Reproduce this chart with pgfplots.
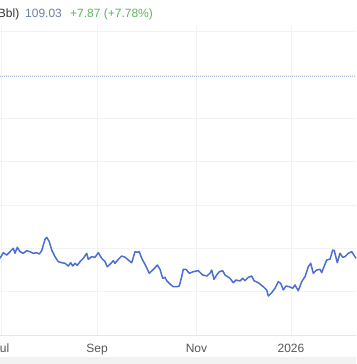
\documentclass[border=0pt]{standalone}
\usepackage{pgfplots}
\pgfplotsset{compat=1.18}
\usepackage{fontspec}
\setmainfont{Liberation Sans}
\definecolor{linec}{HTML}{4A6FD0}
\definecolor{gridc}{HTML}{F2F2F2}
\definecolor{dotc}{HTML}{A9BEDC}
\definecolor{pricec}{HTML}{6E7FA6}
\definecolor{chgc}{HTML}{5DB55D}
\definecolor{txtc}{HTML}{333333}
\definecolor{lblc}{HTML}{555555}
\definecolor{bandc}{HTML}{F2F2F2}
\definecolor{basec}{HTML}{E6E6E6}
\begin{document}
\begin{tikzpicture}[x=1pt,y=1pt]
\path[use as bounding box] (0,0) rectangle (356,364);
\fill[bandc] (0,0) rectangle (356,7);
\begin{axis}[
  at={(0pt,29pt)}, anchor=south west,
  scale only axis, width=356pt, height=335pt,
  xmin=0, xmax=356, ymin=29, ymax=364,
  axis line style={draw=none},
  xtick={1.5,97,196.5,291}, xticklabels={Jul,Sep,Nov,2026},
  ytick={72.4,115.7,159,202.4,245.7,289,332.4}, yticklabels={},
  major tick length=0pt,
  xmajorgrids, ymajorgrids,
  grid style={gridc, line width=0.9pt},
  xticklabel style={font=\fontsize{12}{14}\selectfont, text=lblc, anchor=base, yshift=-18pt},
  clip=false,
]
\draw[basec, line width=0.9pt] (axis cs:0,29) -- (axis cs:356,29);
\draw[dotc, line width=1pt, dash pattern=on 1pt off 1pt] (axis cs:0,287) -- (axis cs:356,287);
\addplot[linec, line width=1.5pt, line join=round] coordinates {
(0,105.7) (3.3,111.3) (6.7,109) (10,112.3) (13.3,115.7) (15,110.7) (17.3,116.7)
(20,112.3) (23.3,110.7) (26.7,113.3) (30,112.3) (33.3,110.7) (36.7,111.3) (39.3,110)
(41.7,113.3) (45,124.7) (46.7,126.7) (49.3,122.3) (51.7,114) (55,107.3) (58.3,102.3)
(61.7,101.3) (65,100.7) (68.3,98) (70.7,101.3) (72.7,98) (75,100.7) (77.3,98.7)
(80,102.3) (83.3,105.7) (86.7,110.7) (88.3,104.7) (91.7,107.3) (95,106.7) (98.3,111.3)
(101.7,105.7) (105,102.3) (107.3,97.3) (110,99.7) (113.3,103.3) (115,100.7) (118.3,104.7)
(121.7,108) (125,106.7) (128.3,104) (131.7,101.3) (135,112.3) (137.3,111.7) (139.3,112.3)
(141.7,105.7) (145,99.7) (149.3,90.7) (152.7,94) (155,96.3) (157.3,99) (160,94.7)
(162.7,85.7) (165,86.7) (166.7,83.3) (170,80) (173.3,77.3) (176.7,77.3) (179.3,78)
(181.7,87.3) (183.3,94.7) (186,94.7) (189.3,90.7) (193.3,92.3) (198.3,93.3) (202.7,89)
(206.7,88) (210,90.7) (211.7,94) (214,84.7) (216.7,89) (219.3,92.3) (222.7,93.3)
(225,89) (230,85.7) (233.3,81.3) (236,84) (240,83) (242.7,85.7) (245,83.3)
(248.3,86.7) (251.7,88) (254,83.3) (258.3,81.3) (263.3,77.3) (266.7,74) (268.3,68)
(271.7,71.3) (275,75.7) (278.3,82.3) (280.7,80.7) (283.3,74) (286,78) (289.3,77.3)
(292.7,75.7) (295,79) (298.3,73.3) (301.7,82.3) (305,87.3) (308.3,97.3) (310.7,100.7)
(313.3,90.7) (316.7,94) (320,94.7) (321.7,91.3) (324,97.3) (326.7,104) (330,104.7)
(332.7,114) (334.3,113.3) (337.3,101.3) (340,110.7) (342.7,106.7) (345,107.3) (348.3,110.7)
(351.7,112.3) (356,105.7)
};
\end{axis}
\fill[white] (0,339) rectangle (356,364);
\node[anchor=base east, inner sep=0pt, text=txtc, font=\fontsize{12}{14}\selectfont] at (19.5,346.5) {Brent Crude Oil (\$/Bbl)};
\node[anchor=base west, inner sep=0pt, text=pricec, font=\fontsize{12}{14}\selectfont] at (25,346.5) {109.03};
\node[anchor=base west, inner sep=0pt, text=chgc, font=\fontsize{12}{14}\selectfont] at (70,346.5) {+7.87 (+7.78\%)};
\end{tikzpicture}
\end{document}
